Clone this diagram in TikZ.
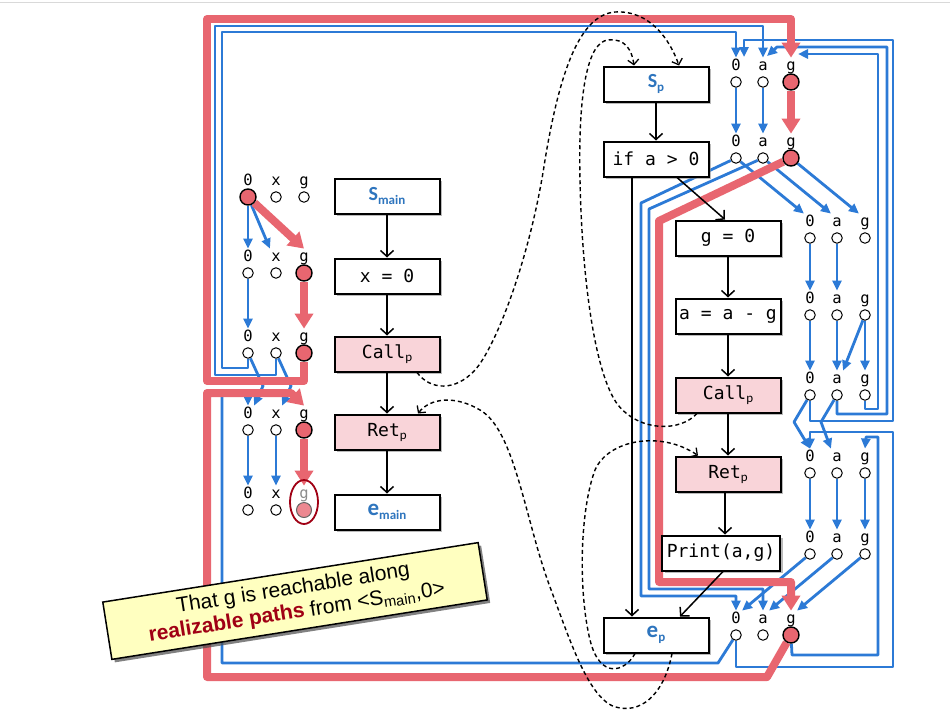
\documentclass[tikz,border=0pt]{standalone}
\usepackage{fontspec}
\setmainfont{Liberation Sans}
\newfontfamily\monof{DejaVu Sans Mono}
\newfontfamily\calib{Carlito}
\usetikzlibrary{arrows.meta,shadows,calc,shapes.geometric}
\definecolor{redl}{RGB}{232,102,112}
\definecolor{bluel}{RGB}{44,122,214}
\definecolor{pinkf}{RGB}{249,212,217}
\definecolor{sblue}{RGB}{46,117,190}
\definecolor{dred}{RGB}{160,0,20}
\definecolor{yel}{RGB}{255,255,192}
\definecolor{pinkc}{RGB}{236,136,145}
\newcommand\bsub[3]{{\calib\bfseries\color{sblue}\fontsize{#3}{#3}\selectfont #1\raisebox{-4pt}{\fontsize{13}{13}\selectfont #2}}}
\newcommand\msub[2]{#1\raisebox{-3pt}{\calib\fontsize{13}{13}\selectfont #2}}
\pgfdeclarelayer{back}
\pgfdeclarelayer{bg}
\pgfsetlayers{back,bg,main}
\begin{document}
\begin{tikzpicture}[x=1pt,y=-1pt,
  box/.style={draw=black, line width=2pt, minimum width=105pt, minimum height=35pt, inner sep=0pt, fill=white,
    font=\monof\fontsize{18}{18}\selectfont,
    drop shadow={shadow xshift=2.5pt,shadow yshift=-2.5pt,fill=black!45,opacity=0.6}},
  callbox/.style={box, fill=pinkf},
  lab/.style={font=\monof\fontsize{15.5}{15.5}\selectfont, inner sep=1.2pt, text height=11pt, text depth=3pt},
  oc/.style={circle, draw=black, line width=1pt, fill=white, minimum size=10.5pt, inner sep=0pt},
  rc/.style={circle, draw=black, line width=1.4pt, fill=redl, minimum size=16pt, inner sep=0pt},
  flow/.style={draw=black, line width=1.5pt, -{Straight Barb[length=6pt,width=13pt,line width=1.5pt]}},
  dflow/.style={draw=black, line width=1.4pt, dash pattern=on 4pt off 3pt, -{Straight Barb[length=5pt,width=11pt,line width=1.3pt]}},
  bp/.style={draw=bluel, line width=2.8pt, line join=round},
  ba/.style={bp, -{Triangle[length=10pt,width=9pt]}},
  rp/.style={draw=redl, line width=8pt, line join=round},
  ra/.style={rp, -{Triangle[length=15pt,width=18pt]}},
  callout/.style={draw=black, line width=1.5pt, fill=yel, minimum width=380pt, minimum height=58pt, align=center,
    inner sep=2pt, font=\fontsize{21}{24}\selectfont,
    drop shadow={shadow xshift=3pt,shadow yshift=-3pt,fill=black!70,opacity=0.7}}
]
\useasboundingbox (0,0) rectangle (950,712);
\begin{pgfonlayer}{back}
\fill[white] (0,0) rectangle (950,712);
\draw[black!15, line width=1pt] (0,2) -- (950,2);
\end{pgfonlayer}

% ---------- control flow boxes ----------
\node[box] (smain) at (387,196) {\bsub{S}{main}{20}};
\node[box] (xz) at (387,276) {x = 0};
\node[callbox] (callm) at (387,354) {\msub{Call}{p}};
\node[callbox] (retm) at (387,432) {\msub{Ret}{p}};
\node[box] (emain) at (387,512) {\bsub{e}{main}{23}};

\node[box] (sp) at (656,84) {\bsub{S}{p}{20}};
\node[box] (ifp) at (656,159) {if a > 0};
\node[box] (gz) at (728,238) {g = 0};
\node[box] (asg) at (728,316) {a = a - g};
\node[callbox] (callp) at (728,395) {\msub{Call}{p}};
\node[callbox] (retp) at (728,474) {\msub{Ret}{p}};
\node[box, minimum width=118pt] (prt) at (721,553) {Print(a,g)};
\node[box] (ep) at (656,635) {\bsub{e}{p}{23}};

% ---------- exploded nodes ----------
\foreach \c/\x/\t/\s in {a/248/0/rc,b/276/x/oc,c/304/g/oc}{\node[lab] (tL1\c) at (\x,181) {\t}; \node[\s] (L1\c) at (\x,197) {};}
\foreach \c/\x/\t/\s in {a/248/0/oc,b/276/x/oc,c/304/g/rc}{\node[lab] (tL2\c) at (\x,257) {\t}; \node[\s] (L2\c) at (\x,273) {};}
\foreach \c/\x/\t/\s in {a/248/0/oc,b/276/x/oc,c/304/g/rc}{\node[lab] (tL3\c) at (\x,337) {\t}; \node[\s] (L3\c) at (\x,353) {};}
\foreach \c/\x/\t/\s in {a/248/0/oc,b/276/x/oc,c/304/g/rc}{\node[lab] (tL4\c) at (\x,414) {\t}; \node[\s] (L4\c) at (\x,430) {};}
\foreach \c/\x/\t in {a/248/0,b/276/x}{\node[lab] (tL5\c) at (\x,494) {\t}; \node[oc] (L5\c) at (\x,510) {};}
\node[lab, text=black!45] (tL5c) at (304,494) {g};
\node[circle, draw=black!60, line width=1pt, fill=pinkc, minimum size=15pt, inner sep=0pt] (L5c) at (304,510) {};
\node[ellipse, draw=dred, line width=1.8pt, minimum width=28pt, minimum height=44pt, inner sep=0pt] (sel) at (304,502) {};

\foreach \c/\x/\t/\s in {a/736/0/oc,b/763/a/oc,c/791/g/rc}{\node[lab] (tSP\c) at (\x,66) {\t}; \node[\s] (SP\c) at (\x,82) {};}
\foreach \c/\x/\t/\s in {a/736/0/oc,b/763/a/oc,c/791/g/rc}{\node[lab] (tIF\c) at (\x,142) {\t}; \node[\s] (IF\c) at (\x,158) {};}
\foreach \c/\x/\t/\s in {a/736/0/oc,b/763/a/oc,c/791/g/rc}{\node[lab] (tEP\c) at (\x,619) {\t}; \node[\s] (EP\c) at (\x,635) {};}
\foreach \r/\y in {G0/238,AS/315,CL/395,RT/473,PR/554}{
  \foreach \c/\x/\t in {a/810/0,b/837/a,c/865/g}{\node[lab] (t\r\c) at (\x,\y-16) {\t}; \node[oc] (\r\c) at (\x,\y) {};}
}
\coordinate (kA) at (744,57);
\coordinate (kB) at (767,56);
\coordinate (kC) at (798,54);

% ---------- black control-flow edges ----------
\draw[flow] (smain) -- (xz);
\draw[flow] (xz) -- (callm);
\draw[flow] (callm) -- (retm);
\draw[flow] (retm) -- (emain);
\draw[flow] (sp) -- (ifp);
\draw[flow] ($(ifp.south)+(21,0)$) -- ($(gz.north)+(-3,0)$);
\draw[flow] ($(ifp.south)+(-24,0)$) -- ($(ep.north)+(-24,0)$);
\draw[flow] (gz) -- (asg);
\draw[flow] (asg) -- (callp);
\draw[flow] (callp) -- (retp);
\draw[flow] ($(retp.south)+(-3,0)$) -- ($(prt.north)+(4,0)$);
\draw[flow] ($(prt.south)+(2,0)$) -- ($(ep.north)+(24,0)$);

% ---------- dashed interprocedural edges ----------
\draw[dflow] ($(callm.south)+(30,0)$) .. controls (430,390) and (455,392) .. (475,370)
  .. controls (495,348) and (530,260) .. (545,160)
  .. controls (560,70) and (580,15) .. (615,12)
  .. controls (650,10) and (670,40) .. ($(sp.north)+(23,0)$);
\draw[dflow] ($(callp.south)+(-31,0)$) .. controls (680,432) and (640,432) .. (618,405)
  .. controls (595,375) and (582,280) .. (580,180)
  .. controls (578,90) and (588,42) .. (608,40)
  .. controls (625,38) and (632,50) .. ($(sp.north)+(-22,0)$);
\draw[dflow] ($(ep.south)+(16,0)$) .. controls (665,690) and (645,712) .. (620,708)
  .. controls (590,705) and (570,640) .. (550,587)
  .. controls (525,520) and (515,430) .. (480,410)
  .. controls (455,395) and (430,398) .. ($(retm.north)+(31,0)$);
\draw[dflow] ($(ep.south)+(-21,0)$) .. controls (625,672) and (600,680) .. (590,640)
  .. controls (578,590) and (580,510) .. (595,470)
  .. controls (608,440) and (660,430) .. ($(retp.north)+(-30,0)$);

% ---------- exploded super-graph edges ----------
\begin{pgfonlayer}{bg}
% left, blue
\draw[ba] (L1a) -- (tL2a.north);
\draw[ba] (L1a) -- (tL2b.north west);
\draw[ba] (L2a) -- (tL3a.north);
\draw[ba] (L3a) -- (263,386) -- (tL4a.north east);
\draw[ba] (L3b) -- (291,386) -- (tL4b.north east);
\draw[ba] (L4a) -- (tL5a.north);
\draw[ba] (L4b) -- (tL5b.north);
\draw[ba] (L3a) -- (248,368) -- (222,368) -- (222,32) -- (736,32) -- (tSPa.north);
\draw[ba] (L3b) -- (276,375) -- (215,375) -- (215,26) -- (763,26) -- (tSPb.north);
\draw[ba] (EPa) -- (718,663) -- (222,663) -- (222,395) -- (248,395) -- (tL4a.north);
% right, blue
\draw[ba] (SPa) -- (tIFa.north);
\draw[ba] (SPb) -- (tIFb.north);
\draw[ba] (IFa) -- (tG0a.north west);
\draw[ba] (IFb) -- (tG0b.north west);
\draw[ba] (IFc) -- (tG0c.north west);
\draw[ba] (IFa) -- (641,203) -- (641,596) -- (736,596) -- (tEPa.north);
\draw[ba] (IFb) -- (649,209) -- (649,589) -- (763,589) -- (tEPb.north);
\draw[ba] (G0a) -- (tASa.north);
\draw[ba] (G0b) -- (tASb.north);
\draw[ba] (ASa) -- (tCLa.north);
\draw[ba] (ASb) -- (tCLb.north);
\draw[ba] (ASc) -- (tCLb.north east);
\draw[ba] (ASc) -- (tCLc.north);
\draw[ba] (CLa) -- (810,421) -- (893,421) -- (893,40) -- (744,40) -- (kA);
\draw[ba] (CLb) -- (837,414) -- (887,414) -- (887,47) -- (777,47) -- (kB);
\draw[ba] (CLc) -- (865,409) -- (878,409) -- (878,54) -- (kC);
\draw[ba] (CLa) -- (794,422) -- (tRTa.north);
\draw[ba] (CLb) -- (821,422) -- (tRTb.north west);
\draw[ba] (EPa) -- (736,667) -- (893,667) -- (893,432) -- (810,432) -- (tRTa.north);
\draw[ba] (EPc) -- (792,655) -- (878,655) -- (878,437) -- (866,437) -- (tRTc.north);
\draw[ba] (RTa) -- (tPRa.north);
\draw[ba] (RTb) -- (tPRb.north);
\draw[ba] (RTc) -- (tPRc.north);
\draw[ba] (PRa) -- (tEPa.north east);
\draw[ba] (PRb) -- (tEPb.north east);
\draw[ba] (PRc) -- (tEPc.north east);
% red path
\draw[ra] (L1a) -- (tL2c.north);
\draw[ra] (L2c) -- (tL3c.north);
\draw[ra] (L3c) -- (304,381) -- (207,381) -- (207,19) -- (791,19) -- (tSPc.north);
\draw[ra] (SPc) -- (tIFc.north);
\draw[ra] (IFc) -- (659,221) -- (659,582) -- (791,582) -- (tEPc.north);
\draw[ra] (EPc) -- (767,677) -- (207,677) -- (207,393) -- (291,393) -- (tL4c.north);
\draw[ra] (L4c) -- (tL5c.north);
\end{pgfonlayer}

% ---------- callout ----------
\node[callout, rotate=9] (note) at (295,601) {That g is reachable along\\{\bfseries\color{dred}realizable paths} from <S\textsubscript{main},0>};
\end{tikzpicture}
\end{document}
